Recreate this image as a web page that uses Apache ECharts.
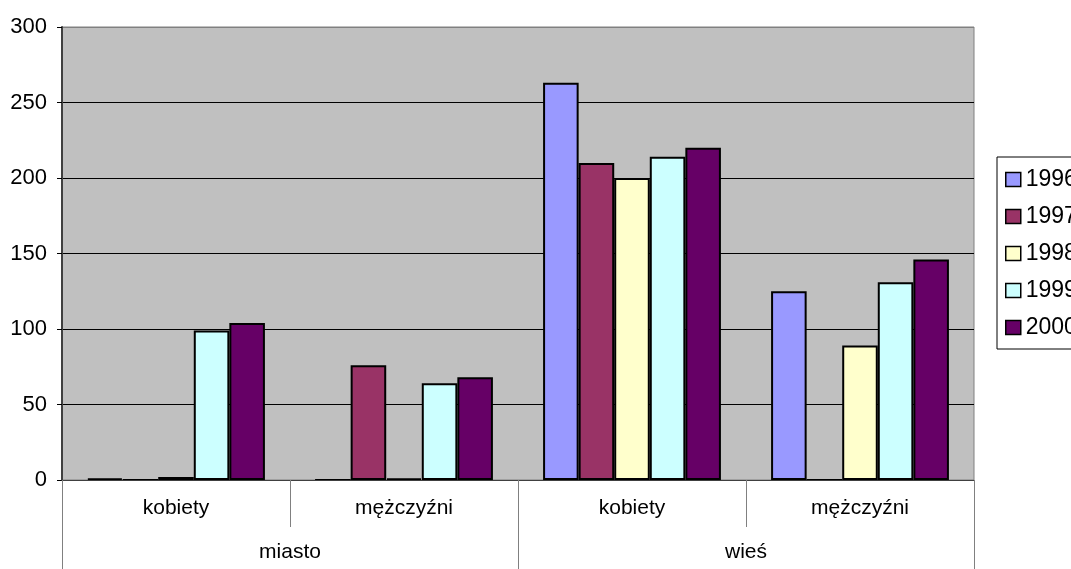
<!DOCTYPE html>
<html>
<head>
<meta charset="utf-8">
<script src="https://cdn.jsdelivr.net/npm/echarts@6/dist/echarts.min.js"></script>
<style>
html,body{margin:0;padding:0;background:#fff;}
#chart{width:1071px;height:569px;}
</style>
</head>
<body>
<div id="chart"></div>
<script>
var subCategories = ['kobiety', 'mężczyźni', 'kobiety', 'mężczyźni'];
var groupCategories = ['miasto', 'wieś'];
var seriesNames = ['1996', '1997', '1998', '1999', '2000'];
var v1996 = [1, 0, 263, 125];
var v1997 = [0, 76, 210, 0];
var v1998 = [2, 1, 200, 89];
var v1999 = [99, 64, 214, 131];
var v2000 = [104, 68, 220, 146];
var yTicks = [0, 50, 100, 150, 200, 250, 300];

var colors = ['#9999FF', '#993366', '#FFFFCC', '#CCFFFF', '#660066'];
var values = [v1996, v1997, v1998, v1999, v2000];
var font = 'Liberation Sans, Arial, sans-serif';
var fs = 21;

var chart = echarts.init(document.getElementById('chart'));
chart.setOption({
  animation: false,
  backgroundColor: '#ffffff',
  grid: {
    left: 62, top: 27, right: 97, bottom: 89,
    show: true, backgroundColor: '#C0C0C0', borderColor: '#808080', borderWidth: 1
  },
  legend: {
    orient: 'vertical',
    left: 997, top: 157,
    padding: [11, 12, 10, 8],
    borderColor: '#000', borderWidth: 1,
    backgroundColor: '#fff',
    icon: 'rect',
    itemWidth: 15, itemHeight: 14, itemGap: 14,
    itemStyle: { borderColor: '#000', borderWidth: 1.5 },
    textStyle: { fontFamily: font, fontSize: 23, lineHeight: 23, color: '#000' },
    data: seriesNames
  },
  xAxis: [
    {
      type: 'category', data: subCategories, position: 'bottom',
      axisLine: { show: true, lineStyle: { color: '#404040', width: 1 } },
      axisTick: { show: true, interval: 0, length: 47, lineStyle: { color: '#808080' } },
      axisLabel: { interval: 0, margin: 18, fontFamily: font, fontSize: fs, color: '#000' },
      z: 3
    },
    {
      type: 'category', data: groupCategories, position: 'bottom',
      axisLine: { show: false },
      axisTick: { show: true, interval: 0, length: 89, lineStyle: { color: '#808080' } },
      axisLabel: { interval: 0, margin: 62, fontFamily: font, fontSize: fs, color: '#000' }
    }
  ],
  yAxis: {
    type: 'value', min: 0, max: 300, interval: 50,
    axisLine: { show: true, lineStyle: { color: '#404040', width: 2 } },
    axisTick: { show: true, length: 5, lineStyle: { color: '#000' } },
    axisLabel: {
      margin: 15, fontFamily: font, fontSize: 22, color: '#000',
      formatter: function (v) { return yTicks.indexOf(v) >= 0 ? String(v) : ''; }
    },
    splitLine: { show: true, lineStyle: { color: ['#000', '#000', '#000', '#000', '#000', '#000', '#808080'], width: 1 } }
  },
  series: seriesNames.map(function (name, i) {
    return {
      name: name, type: 'bar', xAxisIndex: 0,
      data: values[i],
      barGap: '0%', barCategoryGap: '22%',
      itemStyle: { color: colors[i], borderColor: '#000', borderWidth: 2 }
    };
  })
});
</script>
</body>
</html>
